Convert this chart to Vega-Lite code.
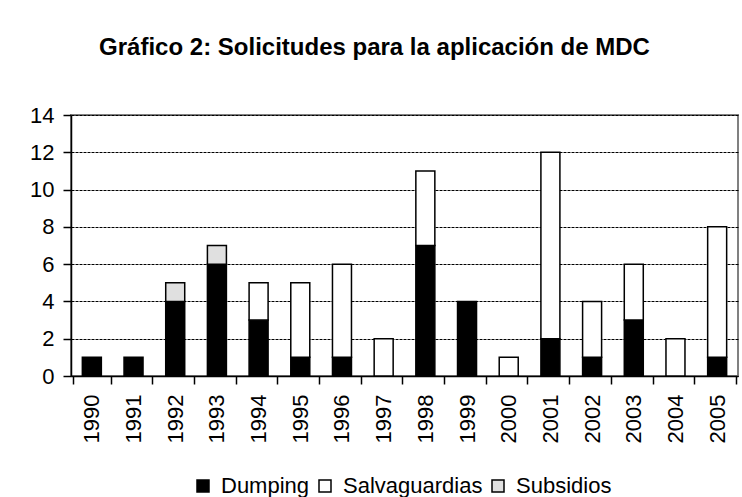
{
  "$schema": "https://vega.github.io/schema/vega-lite/v6.json",
  "width": 667,
  "height": 261,
  "autosize": "none",
  "padding": {"left": 71, "top": 115, "right": 4, "bottom": 121},
  "background": "white",
  "title": {
    "text": "Gráfico 2: Solicitudes para la aplicación de MDC",
    "font": "Liberation Sans",
    "fontSize": 24,
    "fontWeight": "bold",
    "color": "black",
    "anchor": "middle",
    "dx": -30,
    "offset": 44
  },
  "data": {
    "values": [
      {"anio": "1990", "tipo": "Dumping", "n": 1, "orden": 1},
      {"anio": "1991", "tipo": "Dumping", "n": 1, "orden": 1},
      {"anio": "1992", "tipo": "Dumping", "n": 4, "orden": 1},
      {"anio": "1992", "tipo": "Subsidios", "n": 1, "orden": 3},
      {"anio": "1993", "tipo": "Dumping", "n": 6, "orden": 1},
      {"anio": "1993", "tipo": "Subsidios", "n": 1, "orden": 3},
      {"anio": "1994", "tipo": "Dumping", "n": 3, "orden": 1},
      {"anio": "1994", "tipo": "Salvaguardias", "n": 2, "orden": 2},
      {"anio": "1995", "tipo": "Dumping", "n": 1, "orden": 1},
      {"anio": "1995", "tipo": "Salvaguardias", "n": 4, "orden": 2},
      {"anio": "1996", "tipo": "Dumping", "n": 1, "orden": 1},
      {"anio": "1996", "tipo": "Salvaguardias", "n": 5, "orden": 2},
      {"anio": "1997", "tipo": "Salvaguardias", "n": 2, "orden": 2},
      {"anio": "1998", "tipo": "Dumping", "n": 7, "orden": 1},
      {"anio": "1998", "tipo": "Salvaguardias", "n": 4, "orden": 2},
      {"anio": "1999", "tipo": "Dumping", "n": 4, "orden": 1},
      {"anio": "2000", "tipo": "Salvaguardias", "n": 1, "orden": 2},
      {"anio": "2001", "tipo": "Dumping", "n": 2, "orden": 1},
      {"anio": "2001", "tipo": "Salvaguardias", "n": 10, "orden": 2},
      {"anio": "2002", "tipo": "Dumping", "n": 1, "orden": 1},
      {"anio": "2002", "tipo": "Salvaguardias", "n": 3, "orden": 2},
      {"anio": "2003", "tipo": "Dumping", "n": 3, "orden": 1},
      {"anio": "2003", "tipo": "Salvaguardias", "n": 3, "orden": 2},
      {"anio": "2004", "tipo": "Salvaguardias", "n": 2, "orden": 2},
      {"anio": "2005", "tipo": "Dumping", "n": 1, "orden": 1},
      {"anio": "2005", "tipo": "Salvaguardias", "n": 7, "orden": 2}
    ]
  },
  "mark": {"type": "bar", "stroke": "black", "strokeWidth": 1.5, "size": 19},
  "encoding": {
    "x": {
      "field": "anio",
      "type": "ordinal",
      "title": null,
      "axis": {
        "labelAngle": -90,
        "labelAlign": "right",
        "labelBaseline": "middle",
        "labelFont": "Liberation Sans",
        "labelFontSize": 22,
        "labelColor": "black",
        "labelPadding": 10,
        "tickBand": "extent",
        "tickSize": 8,
        "tickColor": "black",
        "tickWidth": 1.5,
        "domainColor": "black",
        "domainWidth": 1.5,
        "grid": false
      }
    },
    "y": {
      "field": "n",
      "type": "quantitative",
      "stack": "zero",
      "title": null,
      "scale": {"domain": [0, 14], "nice": false},
      "axis": {
        "values": [0, 2, 4, 6, 8, 10, 12, 14],
        "labelFont": "Liberation Sans",
        "labelFontSize": 22,
        "labelColor": "black",
        "labelPadding": 9,
        "tickSize": 8,
        "tickColor": "black",
        "tickWidth": 1.5,
        "domainColor": "black",
        "domainWidth": 1.5,
        "grid": true,
        "gridColor": "black",
        "gridDash": [3, 1],
        "gridWidth": 1
      }
    },
    "color": {
      "field": "tipo",
      "type": "nominal",
      "scale": {
        "domain": ["Dumping", "Salvaguardias", "Subsidios"],
        "range": ["black", "white", "#e0e0e0"]
      },
      "legend": {
        "title": null,
        "orient": "none",
        "direction": "horizontal",
        "legendX": 121,
        "legendY": 360,
        "symbolType": "square",
        "symbolSize": 144,
        "symbolStrokeColor": "black",
        "symbolStrokeWidth": 1.5,
        "labelFont": "Liberation Sans",
        "labelFontSize": 22,
        "labelColor": "black",
        "labelOffset": 7,
        "columnPadding": 4
      }
    },
    "order": {"field": "orden", "type": "quantitative"}
  },
  "config": {
    "view": {"stroke": "#808080", "strokeWidth": 2}
  }
}
